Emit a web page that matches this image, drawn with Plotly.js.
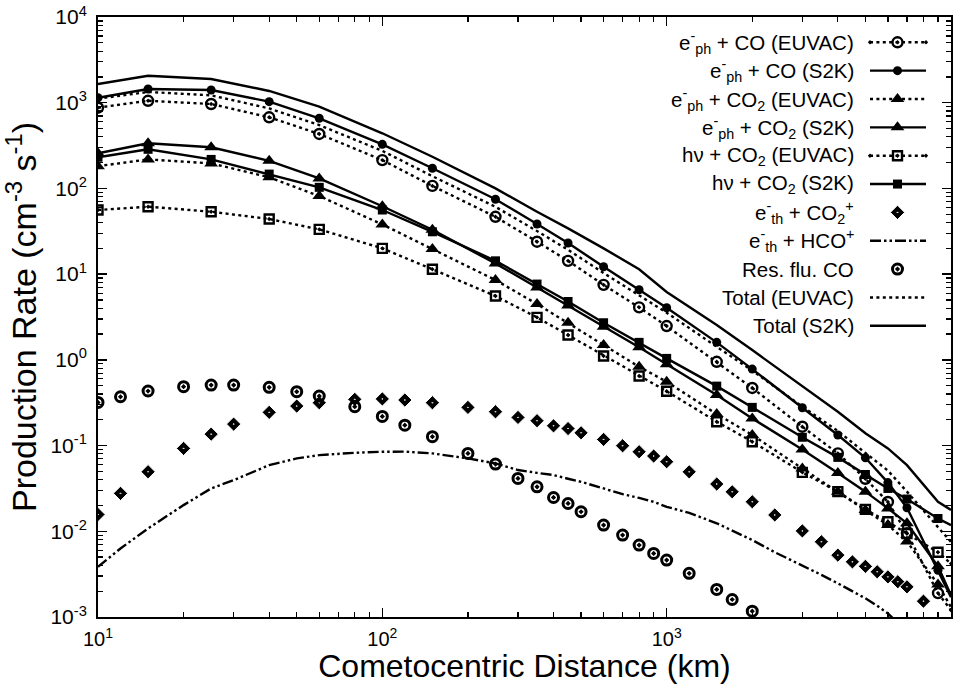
<!DOCTYPE html>
<html>
<head>
<meta charset="utf-8">
<script src="https://cdn.plot.ly/plotly-3.0.1.min.js"></script>
<style>html,body{margin:0;padding:0;background:#fff}</style>
</head>
<body>
<div id="chart" style="width:966px;height:684px"></div>
<script>
// Cometocentric distance grid (km) for the photo-electron / photo-ionisation profiles
const distance = [10, 15, 25, 40, 60, 100, 150, 250, 350, 450, 600, 800, 1000, 1500, 2000, 3000, 4000, 5000, 6000, 7000, 9000, 10000];

// Production rates (cm^-3 s^-1)
const ephCO_EUVAC  = [875, 1054, 966, 676, 432, 214, 107, 46.7, 23.9, 14.3, 7.5, 4.1, 2.48, 0.95, 0.47, 0.166, 0.081, 0.041, 0.022, 0.0095, 0.0019, 0.0012];
const ephCO_S2K    = [1143, 1445, 1406, 1028, 658, 327, 172, 74.7, 38.5, 23.1, 12.2, 6.58, 4.06, 1.60, 0.78, 0.276, 0.133, 0.072, 0.037, 0.0188, 0.0035, 0.0017];
const ephCO2_EUVAC = [182, 218, 196, 135, 81.5, 38, 19.6, 8.53, 4.48, 2.71, 1.49, 0.83, 0.556, 0.233, 0.133, 0.054, 0.029, 0.0177, 0.0118, 0.0076, 0.0024, 0.0013];
const ephCO2_S2K   = [257, 336, 302, 210, 131, 62, 33, 13.3, 7.0, 4.3, 2.43, 1.40, 0.89, 0.388, 0.207, 0.090, 0.048, 0.029, 0.0185, 0.0124, 0.0039, 0.0018];
const hvCO2_EUVAC  = [56, 61.2, 53.5, 44, 33.3, 20, 11.4, 5.55, 3.13, 1.95, 1.11, 0.647, 0.43, 0.19, 0.111, 0.0487, 0.029, 0.018, 0.0129, 0.0094, 0.0057, 0.0042];
const hvCO2_S2K    = [231, 286, 218, 147, 103, 56, 31.2, 14.3, 7.66, 4.8, 2.71, 1.60, 1.04, 0.494, 0.279, 0.125, 0.0728, 0.046, 0.0316, 0.0238, 0.0141, 0.0118];
const total_EUVAC  = [1115, 1335, 1220, 858, 548, 274, 139, 61, 31.8, 19.2, 10.3, 5.7, 3.55, 1.42, 0.75, 0.285, 0.148, 0.082, 0.051, 0.029, 0.0112, 0.0075];
const total_S2K    = [1652, 2065, 1891, 1371, 898, 440, 234, 100, 53.5, 34.2, 20, 11.4, 6.2, 2.55, 1.30, 0.494, 0.248, 0.139, 0.0927, 0.0591, 0.0221, 0.0177];

// Finer grid for thermal-electron recombination and resonance fluorescence
const distanceFine = [10, 12, 15, 20, 25, 30, 40, 50, 60, 80, 100, 120, 150, 200, 250, 300, 350, 400, 450, 500, 600, 700, 800, 900, 1000, 1200, 1500, 1700, 2000, 2400, 3000, 3500, 4000, 4500, 5000, 5500, 6000, 6500, 7000, 8000];
const eth_CO2p = [0.0157, 0.0277, 0.0495, 0.0927, 0.136, 0.178, 0.244, 0.289, 0.316, 0.346, 0.35, 0.34, 0.316, 0.279, 0.248, 0.213, 0.195, 0.170, 0.158, 0.141, 0.118, 0.0995, 0.0847, 0.0755, 0.0648, 0.0494, 0.0356, 0.0289, 0.0221, 0.0155, 0.0101, 0.00755, 0.00527, 0.0044, 0.0039, 0.00337, 0.00294, 0.00258, 0.00225, 0.00153];
const eth_HCOp = [0.00385, 0.0063, 0.0108, 0.0202, 0.0316, 0.0395, 0.0591, 0.0708, 0.0774, 0.0824, 0.0847, 0.085, 0.081, 0.0708, 0.062, 0.0518, 0.048, 0.0453, 0.041, 0.0378, 0.0316, 0.0271, 0.0245, 0.0221, 0.0193, 0.0164, 0.0124, 0.0102, 0.0079, 0.0057, 0.004, 0.0031, 0.00247, 0.002, 0.00165, 0.00135, 0.0011, 0.00085, 0.0007, 0.0005];
const resFluCO = [0.319, 0.371, 0.433, 0.486, 0.508, 0.508, 0.478, 0.425, 0.378, 0.284, 0.219, 0.173, 0.127, 0.081, 0.0608, 0.0414, 0.033, 0.0248, 0.0211, 0.0169, 0.0118, 0.00903, 0.0069, 0.00552, 0.00461, 0.00323, 0.0021, 0.0016, 0.00117];

// Axis ticks
const xTickVals = [10, 100, 1000, 10000];
const xTickText = ['10<sup>1</sup>', '10<sup>2</sup>', '10<sup>3</sup>', '10<sup>4</sup>'];
const yTickVals = [1e-3, 1e-2, 1e-1, 1, 10, 100, 1000, 10000];
const yTickText = ['10<sup>-3</sup>', '10<sup>-2</sup>', '10<sup>-1</sup>', '10<sup>0</sup>', '10<sup>1</sup>', '10<sup>2</sup>', '10<sup>3</sup>', '10<sup>4</sup>'];

// Legend entries, top to bottom
const legendLabels = [
  'e<sup>-</sup><sub>ph</sub> + CO (EUVAC)',
  'e<sup>-</sup><sub>ph</sub> + CO (S2K)',
  'e<sup>-</sup><sub>ph</sub> + CO<sub>2</sub> (EUVAC)',
  'e<sup>-</sup><sub>ph</sub> + CO<sub>2</sub> (S2K)',
  'h\u03bd + CO<sub>2</sub> (EUVAC)',
  'h\u03bd + CO<sub>2</sub> (S2K)',
  'e<sup>-</sup><sub>th</sub> + CO<sub>2</sub><sup>+</sup>',
  'e<sup>-</sup><sub>th</sub> + HCO<sup>+</sup>',
  'Res. flu. CO',
  'Total (EUVAC)',
  'Total (S2K)'
];

const FONT = 'Liberation Sans, Arial, Helvetica, sans-serif';
const DOT = '3px,3.4px';
const DASHDOTDOT = '11px,3px,2.5px,3px,2.5px,3px';

// Visual style for each series (same order as legend)
const styles = [
  {mode: 'lines+markers', dash: DOT,   symbol: 'circle-open-dot',  size: 10, mlw: 2.4, mlc: '#000'},
  {mode: 'lines+markers', dash: 'solid', symbol: 'circle',        size: 9,  mlw: 0,   mlc: '#000'},
  {mode: 'lines+markers', dash: DOT,   symbol: 'triangle-up',     size: 12, mlw: 0,   mlc: '#000'},
  {mode: 'lines+markers', dash: 'solid', symbol: 'triangle-up',   size: 12, mlw: 0,   mlc: '#000'},
  {mode: 'lines+markers', dash: DOT,   symbol: 'square-open-dot', size: 9,  mlw: 2.4, mlc: '#000'},
  {mode: 'lines+markers', dash: 'solid', symbol: 'square',        size: 9,  mlw: 0,   mlc: '#000'},
  {mode: 'markers',       dash: 'solid', symbol: 'diamond-dot',   size: 11, mlw: 1,   mlc: '#fff'},
  {mode: 'lines',         dash: DASHDOTDOT, symbol: 'circle',     size: 0,  mlw: 0,   mlc: '#000'},
  {mode: 'markers',       dash: 'solid', symbol: 'circle-open-dot', size: 10, mlw: 3, mlc: '#000'},
  {mode: 'lines',         dash: DOT,   symbol: 'circle',          size: 0,  mlw: 0,   mlc: '#000'},
  {mode: 'lines',         dash: 'solid', symbol: 'circle',        size: 0,  mlw: 0,   mlc: '#000'}
];

const seriesX = [distance, distance, distance, distance, distance, distance,
                 distanceFine, distanceFine, distanceFine.slice(0, resFluCO.length), distance, distance];
const seriesY = [ephCO_EUVAC, ephCO_S2K, ephCO2_EUVAC, ephCO2_S2K, hvCO2_EUVAC, hvCO2_S2K,
                 eth_CO2p, eth_HCOp, resFluCO, total_EUVAC, total_S2K];

const traces = [];
seriesX.forEach(function (xs, i) {
  const s = styles[i];
  // no symbol is drawn on the outer frame itself
  const sizes = xs.map(function (x) { return x >= 10000 ? 0 : s.size; });
  traces.push({
    type: 'scatter', x: xs, y: seriesY[i], mode: s.mode, showlegend: false,
    line: {color: '#000', width: 2.4, dash: s.dash},
    marker: {symbol: s.symbol, size: sizes, opacity: 1, color: '#000', line: {color: s.mlc, width: s.mlw}},
    cliponaxis: true, hoverinfo: 'x+y'
  });
});

// Key drawn at the upper right: label on the left, sample on the right
const plotL = 98, plotR = 951, plotT = 17, plotB = 617;
const rowPx0 = 42.3, rowStep = 28.35;
const sampleX0 = (870 - plotL) / (plotR - plotL);
const sampleX1 = (926 - plotL) / (plotR - plotL);
const sampleXm = (897.5 - plotL) / (plotR - plotL);
const labelX = (856 - plotL) / (plotR - plotL);
const annotations = [];
legendLabels.forEach(function (lab, i) {
  const yf = (plotB - (rowPx0 + i * rowStep)) / (plotB - plotT);
  const s = styles[i];
  const hasLine = s.mode.indexOf('lines') >= 0;
  traces.push({
    type: 'scatter', xaxis: 'x2', yaxis: 'y2', showlegend: false, hoverinfo: 'skip',
    x: hasLine ? [sampleX0, sampleXm, sampleX1] : [sampleXm],
    y: hasLine ? [yf, yf, yf] : [yf],
    mode: s.mode,
    line: {color: '#000', width: 2.4, dash: s.dash},
    marker: {symbol: s.symbol, size: hasLine ? [0, s.size, 0] : [s.size], opacity: 1, color: '#000',
             line: {color: s.mlc, width: s.mlw}}
  });
  annotations.push({
    xref: 'paper', yref: 'paper', x: labelX, y: yf, xanchor: 'right', yanchor: 'middle',
    text: lab, showarrow: false, font: {family: FONT, size: 20.5, color: '#000'}
  });
});

const minorVals = function (lo, hi) {
  const out = [];
  for (let d = lo; d < hi; d *= 10) for (let k = 2; k <= 9; k++) out.push(k * d);
  return out;
};

const layout = {
  width: 966, height: 684,
  margin: {l: plotL, r: 966 - plotR, t: plotT, b: 684 - plotB},
  paper_bgcolor: '#fff', plot_bgcolor: '#fff',
  font: {family: FONT, color: '#000'},
  showlegend: false,
  xaxis: {
    type: 'log', range: [1, 4], showgrid: false, zeroline: false,
    showline: true, linecolor: '#000', linewidth: 2, mirror: 'allticks',
    ticks: 'inside', ticklen: 9, tickwidth: 1.5, tickcolor: '#000',
    tickmode: 'array', tickvals: xTickVals, ticktext: xTickText,
    tickfont: {family: FONT, size: 20, color: '#000'}, ticklabelstandoff: 3,
    minor: {tickmode: 'array', tickvals: minorVals(10, 10000), ticks: 'inside', ticklen: 5, tickwidth: 1.2, tickcolor: '#000'},
    title: {text: 'Cometocentric Distance (km)', font: {family: FONT, size: 32, color: '#000'}, standoff: 5},
    automargin: false
  },
  yaxis: {
    type: 'log', range: [-3, 4], showgrid: false, zeroline: false,
    showline: true, linecolor: '#000', linewidth: 2, mirror: 'allticks',
    ticks: 'inside', ticklen: 9, tickwidth: 1.5, tickcolor: '#000',
    tickmode: 'array', tickvals: yTickVals, ticktext: yTickText,
    tickfont: {family: FONT, size: 21, color: '#000'}, ticklabelstandoff: 5,
    minor: {tickmode: 'array', tickvals: minorVals(1e-3, 1e4), ticks: 'inside', ticklen: 5, tickwidth: 1.2, tickcolor: '#000'},
    title: {text: 'Production Rate (cm<sup>-3</sup> s<sup>-1</sup>)', font: {family: FONT, size: 34, color: '#000'}, standoff: 10},
    automargin: false
  },
  xaxis2: {overlaying: 'x', range: [0, 1], visible: false, fixedrange: true},
  yaxis2: {overlaying: 'y', range: [0, 1], visible: false, fixedrange: true},
  annotations: annotations
};

Plotly.newPlot('chart', traces, layout, {staticPlot: true, displayModeBar: false});
</script>
</body>
</html>
